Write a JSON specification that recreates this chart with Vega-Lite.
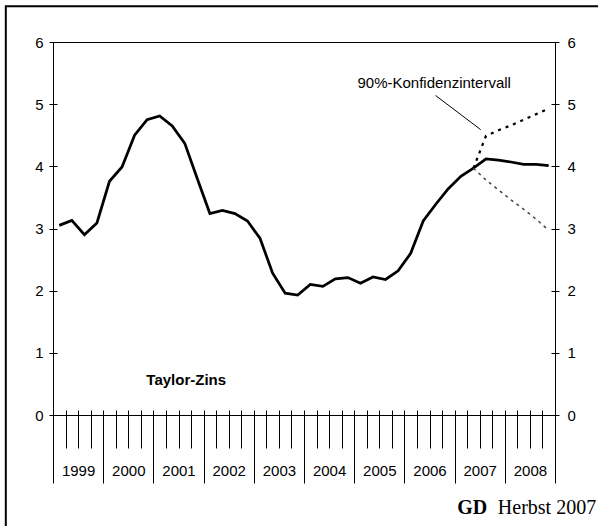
{
  "$schema": "https://vega.github.io/schema/vega-lite/v6.json",
  "width": 502,
  "height": 373,
  "autosize": "none",
  "padding": {"left": 53, "top": 42, "right": 43, "bottom": 111},
  "background": "white",
  "config": {
    "font": "Liberation Sans",
    "view": {"stroke": "black", "strokeWidth": 1},
    "axis": {
      "grid": false,
      "title": null,
      "domainColor": "black",
      "tickColor": "black",
      "labelColor": "black",
      "labelFont": "Liberation Sans",
      "labelFontSize": 15,
      "labelFlush": false,
      "labelOverlap": false,
      "domainWidth": 1,
      "tickWidth": 1
    }
  },
  "datasets": {
    "main": [
      {"date": 1999.125, "value": 3.05}, {"date": 1999.375, "value": 3.13}, {"date": 1999.625, "value": 2.90}, {"date": 1999.875, "value": 3.09},
      {"date": 2000.125, "value": 3.76}, {"date": 2000.375, "value": 3.99}, {"date": 2000.625, "value": 4.50}, {"date": 2000.875, "value": 4.75},
      {"date": 2001.125, "value": 4.81}, {"date": 2001.375, "value": 4.65}, {"date": 2001.625, "value": 4.37}, {"date": 2001.875, "value": 3.80},
      {"date": 2002.125, "value": 3.24}, {"date": 2002.375, "value": 3.29}, {"date": 2002.625, "value": 3.24}, {"date": 2002.875, "value": 3.12},
      {"date": 2003.125, "value": 2.84}, {"date": 2003.375, "value": 2.28}, {"date": 2003.625, "value": 1.96}, {"date": 2003.875, "value": 1.93},
      {"date": 2004.125, "value": 2.10}, {"date": 2004.375, "value": 2.07}, {"date": 2004.625, "value": 2.19}, {"date": 2004.875, "value": 2.21},
      {"date": 2005.125, "value": 2.12}, {"date": 2005.375, "value": 2.22}, {"date": 2005.625, "value": 2.18}, {"date": 2005.875, "value": 2.32},
      {"date": 2006.125, "value": 2.60}, {"date": 2006.375, "value": 3.12}, {"date": 2006.625, "value": 3.39}, {"date": 2006.875, "value": 3.64},
      {"date": 2007.125, "value": 3.84}, {"date": 2007.375, "value": 3.97}, {"date": 2007.625, "value": 4.12}, {"date": 2007.875, "value": 4.10},
      {"date": 2008.125, "value": 4.07}, {"date": 2008.375, "value": 4.03}, {"date": 2008.625, "value": 4.03}, {"date": 2008.875, "value": 4.01}
    ],
    "upper": [
      {"date": 2007.375, "value": 3.97}, {"date": 2007.625, "value": 4.49}, {"date": 2007.875, "value": 4.58},
      {"date": 2008.125, "value": 4.66}, {"date": 2008.375, "value": 4.75}, {"date": 2008.625, "value": 4.84}, {"date": 2008.875, "value": 4.93}
    ],
    "lower": [
      {"date": 2007.375, "value": 3.97}, {"date": 2007.625, "value": 3.78}, {"date": 2007.875, "value": 3.62},
      {"date": 2008.125, "value": 3.46}, {"date": 2008.375, "value": 3.31}, {"date": 2008.625, "value": 3.15}, {"date": 2008.875, "value": 2.97}
    ],
    "leader": [
      {"date": 2006.62, "value": 5.14, "date2": 2007.52, "value2": 4.59}
    ],
    "note": [
      {"date": 2005.065, "value": 5.26, "text": "90%-Konfidenzintervall"}
    ],
    "series_label": [
      {"date": 2000.86, "value": 0.48, "text": "Taylor-Zins"}
    ],
    "source_bold": [
      {"date": 2007.65, "value": -1.59, "text": "GD"}
    ],
    "source": [
      {"date": 2009.82, "value": -1.59, "text": "Herbst 2007"}
    ],
    "frame": [
      {"date": 1998.06, "value": 6.576, "date2": 2015, "value2": -6}
    ]
  },
  "resolve": {"axis": {"x": "independent", "y": "independent"}},
  "layer": [
    {
      "data": {"name": "frame"},
      "mark": {"type": "rect", "filled": false, "color": "black", "strokeWidth": 2, "clip": false},
      "encoding": {
        "x": {"field": "date", "type": "quantitative", "scale": {"domain": [1999, 2009], "nice": false, "zero": false}, "axis": null},
        "x2": {"field": "date2"},
        "y": {"field": "value", "type": "quantitative", "scale": {"domain": [0, 6], "nice": false}, "axis": null},
        "y2": {"field": "value2"}
      }
    },
    {
      "data": {"name": "main"},
      "mark": {"type": "line", "color": "black", "strokeWidth": 2.75},
      "encoding": {
        "x": {"field": "date", "type": "quantitative",
          "axis": {"orient": "bottom", "values": [1999, 1999.25, 1999.5, 1999.75, 2000, 2000.25, 2000.5, 2000.75, 2001, 2001.25, 2001.5, 2001.75, 2002, 2002.25, 2002.5, 2002.75, 2003, 2003.25, 2003.5, 2003.75, 2004, 2004.25, 2004.5, 2004.75, 2005, 2005.25, 2005.5, 2005.75, 2006, 2006.25, 2006.5, 2006.75, 2007, 2007.25, 2007.5, 2007.75, 2008, 2008.25, 2008.5, 2008.75, 2009], "tickSize": 33, "labels": false, "domain": true}},
        "y": {"field": "value", "type": "quantitative",
          "axis": {"orient": "left", "values": [0, 1, 2, 3, 4, 5, 6], "tickSize": 4, "labelPadding": 6, "domain": true}}
      }
    },
    {
      "data": {"name": "upper"},
      "mark": {"type": "line", "color": "black", "strokeWidth": 2.25, "strokeDash": [3, 5]},
      "encoding": {
        "x": {"field": "date", "type": "quantitative",
          "axis": {"orient": "bottom", "values": [1999, 2000, 2001, 2002, 2003, 2004, 2005, 2006, 2007, 2008, 2009], "tickSize": 68, "labels": false, "domain": false}},
        "y": {"field": "value", "type": "quantitative",
          "axis": {"orient": "right", "values": [0, 1, 2, 3, 4, 5, 6], "tickSize": 4, "labelPadding": 8, "domain": true}}
      }
    },
    {
      "data": {"name": "lower"},
      "mark": {"type": "line", "color": "#444444", "strokeWidth": 1.5, "strokeDash": [3, 4]},
      "encoding": {
        "x": {"field": "date", "type": "quantitative",
          "axis": {"orient": "bottom", "values": [1999.5, 2000.5, 2001.5, 2002.5, 2003.5, 2004.5, 2005.5, 2006.5, 2007.5, 2008.5], "tickSize": 0, "tickOpacity": 0, "labelPadding": 48, "labelExpr": "floor(datum.value)", "domain": false}},
        "y": {"field": "value", "type": "quantitative",
          "axis": {"orient": "left", "values": [0, 1, 2, 3, 4, 5, 6], "tickSize": -4, "labels": false, "domain": false}}
      }
    },
    {
      "data": {"name": "leader"},
      "mark": {"type": "rule", "color": "black", "strokeWidth": 1},
      "encoding": {
        "x": {"field": "date", "type": "quantitative",
          "axis": {"orient": "bottom", "values": [1999, 1999.25, 1999.5, 1999.75, 2000, 2000.25, 2000.5, 2000.75, 2001, 2001.25, 2001.5, 2001.75, 2002, 2002.25, 2002.5, 2002.75, 2003, 2003.25, 2003.5, 2003.75, 2004, 2004.25, 2004.5, 2004.75, 2005, 2005.25, 2005.5, 2005.75, 2006, 2006.25, 2006.5, 2006.75, 2007, 2007.25, 2007.5, 2007.75, 2008, 2008.25, 2008.5, 2008.75, 2009], "tickSize": -5, "labels": false, "domain": false}},
        "x2": {"field": "date2"},
        "y": {"field": "value", "type": "quantitative",
          "axis": {"orient": "right", "values": [0, 1, 2, 3, 4, 5, 6], "tickSize": -4, "labels": false, "domain": false}},
        "y2": {"field": "value2"}
      }
    },
    {
      "data": {"name": "note"},
      "mark": {"type": "text", "align": "left", "baseline": "alphabetic", "fontSize": 15, "font": "Liberation Sans", "color": "black"},
      "encoding": {
        "x": {"field": "date", "type": "quantitative", "axis": null},
        "y": {"field": "value", "type": "quantitative", "axis": null},
        "text": {"field": "text"}
      }
    },
    {
      "data": {"name": "series_label"},
      "mark": {"type": "text", "align": "left", "baseline": "alphabetic", "fontSize": 15, "fontWeight": "bold", "font": "Liberation Sans", "color": "black"},
      "encoding": {
        "x": {"field": "date", "type": "quantitative", "axis": null},
        "y": {"field": "value", "type": "quantitative", "axis": null},
        "text": {"field": "text"}
      }
    },
    {
      "data": {"name": "source_bold"},
      "mark": {"type": "text", "align": "right", "baseline": "alphabetic", "fontSize": 20, "fontWeight": "bold", "font": "Liberation Serif", "color": "black", "clip": false},
      "encoding": {
        "x": {"field": "date", "type": "quantitative", "axis": null},
        "y": {"field": "value", "type": "quantitative", "axis": null},
        "text": {"field": "text"}
      }
    },
    {
      "data": {"name": "source"},
      "mark": {"type": "text", "align": "right", "baseline": "alphabetic", "fontSize": 20, "font": "Liberation Serif", "color": "black", "clip": false},
      "encoding": {
        "x": {"field": "date", "type": "quantitative", "axis": null},
        "y": {"field": "value", "type": "quantitative", "axis": null},
        "text": {"field": "text"}
      }
    }
  ]
}
